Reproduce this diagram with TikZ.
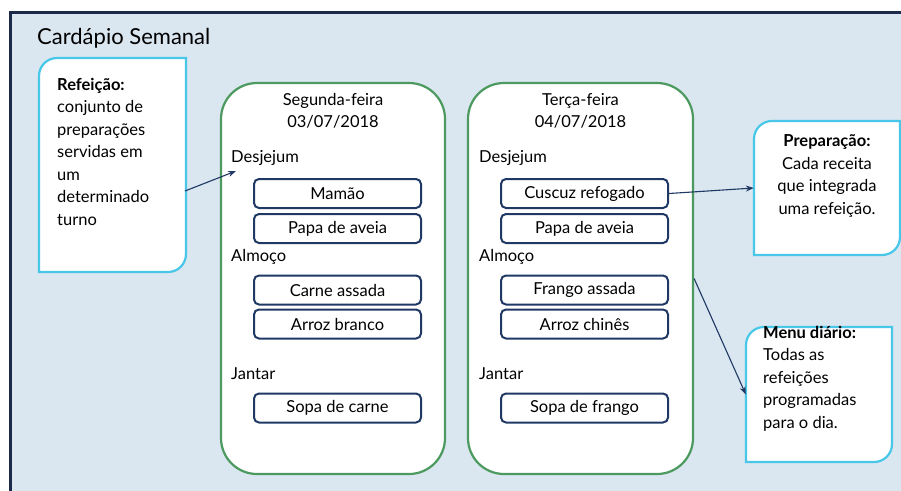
\documentclass[tikz,border=0pt]{standalone}
\usepackage{fontspec}
\setmainfont{Lato}
\usetikzlibrary{arrows.meta}

\definecolor{fundo}{RGB}{218,230,240}
\definecolor{moldura}{RGB}{28,42,74}
\definecolor{verde}{RGB}{76,154,96}
\definecolor{ciano}{RGB}{72,199,232}
\definecolor{marinho}{RGB}{31,56,100}

\tikzset{
	dia/.style={draw=verde, line width=2.2pt, fill=white, rounded corners=36pt, inner sep=0pt},
	prato/.style={draw=marinho, line width=2pt, fill=white, rounded corners=5pt, minimum width=167pt, minimum height=29pt, inner sep=0pt},
	nota/.style={draw=none, inner sep=0pt},
	borda/.style={draw=ciano, fill=white, line width=2.2pt},
	seta/.style={-{Stealth[length=8pt,width=6pt]}, marinho, line width=1.1pt},
	texto/.style={inner sep=0pt, font=\fontsize{16.5}{22.5}\selectfont}
}

% contorno com dois cantos arredondados (superior esquerdo e inferior direito)
% #1,#2 = canto superior esquerdo; #3,#4 = canto inferior direito
\newcommand{\cantos}[4]{
	\filldraw [borda] (#3, #2) -- (#1+18, #2) .. controls (#1+8, #2) and (#1, #2+8) .. (#1, #2+18) -- (#1, #4) -- (#3-18, #4) .. controls (#3-8, #4) and (#3, #4-8) .. (#3, #4-18) -- cycle;
}

\begin{document}
\begin{tikzpicture}[x=1pt, y=-1pt]
	
	\useasboundingbox (0, 0) rectangle (901, 490);
	\filldraw [fill=fundo, draw=moldura, line width=3pt] (10, 12) rectangle (920, 510);
	
	\node [texto, anchor=west, font=\fontsize{22}{26}\selectfont] (titulo) at (37, 38) {Cardápio Semanal};
	
	% caixas de nota
	\cantos{39}{58}{186}{272}
	\node [nota, minimum width=147pt, minimum height=214pt] (refeicao) at (112.5, 165) {};
	\node [texto, anchor=north west, align=left] (refeicaotxt) at (57, 78) {\textbf{Refeição:}\\conjunto de\\preparações\\servidas em\\um\\determinado\\turno};
	
	\cantos{754}{121}{900}{255}
	\node [nota, minimum width=146pt, minimum height=134pt] (preparacao) at (827, 188) {};
	\node [texto, align=center] (preparacaotxt) at (827, 176) {\textbf{Preparação:}\\Cada receita\\que integrada\\uma refeição.};
	
	\cantos{746}{327}{892}{462}
	\node [nota, minimum width=146pt, minimum height=135pt] (menu) at (819, 394.5) {};
	\node [texto, anchor=north west, align=left] (menutxt) at (763, 326) {\textbf{Menu diário:}\\Todas as\\refeições\\programadas\\para o dia.};
	
	% segunda-feira
	\node [dia, minimum width=224pt, minimum height=391pt] (segunda) at (333, 278.5) {};
	\node [texto, align=center] (segundatit) at (333, 111) {Segunda-feira\\03/07/2018};
	\node [texto, anchor=west] (segdesjejum) at (231, 158) {Desjejum};
	\node [texto, anchor=west] (segalmoco) at (231, 257) {Almoço};
	\node [texto, anchor=west] (segjantar) at (231, 374) {Jantar};
	\node [prato, texto] (mamao) at (337.5, 193.5) {Mamão};
	\node [prato, texto] (segpapa) at (337.5, 228.5) {Papa de aveia};
	\node [prato, texto] (carne) at (337.5, 290) {Carne assada};
	\node [prato, texto] (arrozbranco) at (337.5, 324) {Arroz branco};
	\node [prato, texto] (sopacarne) at (337.5, 408) {Sopa de carne};
	
	% terça-feira
	\node [dia, minimum width=225pt, minimum height=391pt] (terca) at (580.5, 278.5) {};
	\node [texto, align=center] (tercatit) at (580.5, 111) {Terça-feira\\04/07/2018};
	\node [texto, anchor=west] (terdesjejum) at (479, 158) {Desjejum};
	\node [texto, anchor=west] (teralmoco) at (479, 257) {Almoço};
	\node [texto, anchor=west] (terjantar) at (479, 374) {Jantar};
	\node [prato, texto] (cuscuz) at (584.5, 193.5) {Cuscuz refogado};
	\node [prato, texto] (terpapa) at (584.5, 228.5) {Papa de aveia};
	\node [prato, texto] (frango) at (584.5, 290) {Frango assada};
	\node [prato, texto] (arrozchines) at (584.5, 324) {Arroz chinês};
	\node [prato, texto] (sopafrango) at (584.5, 408) {Sopa de frango};
	
	% setas
	\coordinate (refsaida) at (185, 191);
	\coordinate (refponta) at (236, 171);
	\draw [seta] (refsaida) -- (refponta);
	\draw [seta] (cuscuz.east) -- (preparacao.west);
	\draw [seta] (terca.east) -- (menu.west);
	
\end{tikzpicture}
\end{document}
